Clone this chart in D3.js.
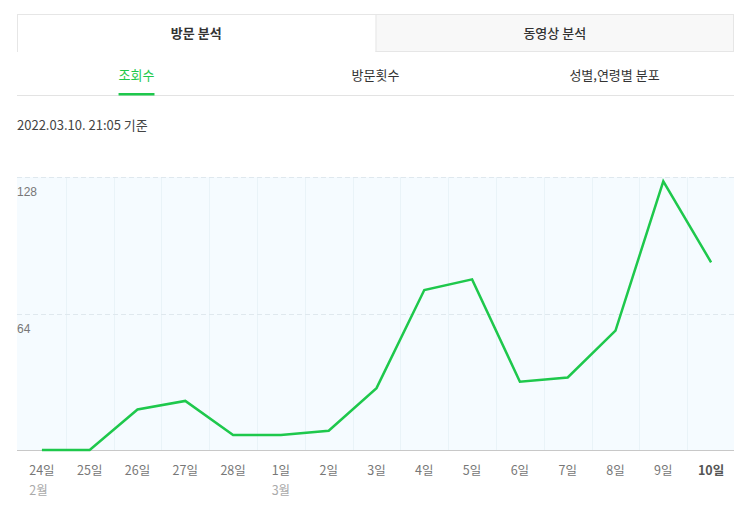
<!DOCTYPE html>
<html>
<head>
<meta charset="utf-8">
<script src="https://cdn.jsdelivr.net/npm/d3@7"></script>
<style>
  html, body { margin: 0; padding: 0; background: #fff; }
  svg { display: block; font-family: "Noto Sans CJK KR", "Noto Sans", sans-serif; }
</style>
</head>
<body>
<svg id="chart" width="743" height="525"></svg>
<script>
// ---- data ----
const days = ["24일","25일","26일","27일","28일","1일","2일","3일","4일","5일","6일","7일","8일","9일","10일"];
const months = ["2월","","","","","3월","","","","","","","","",""];
const views = [0, 0, 19, 23, 7, 7, 9, 29, 75, 80, 32, 34, 56, 126, 88];
const yTicks = [64, 128];
const mainTabs = ["방문 분석", "동영상 분석"];
const subTabs = ["조회수", "방문횟수", "성별,연령별 분포"];
const stamp = "2022.03.10. 21:05 기준";

const svg = d3.select("#chart");
const L = 17, R = 734;

// ---- main tabs ----
const tabX = d3.scaleBand().domain(mainTabs).range([L, R]);
const tabTop = 14, tabBot = 52;
svg.append("rect").attr("x", tabX(mainTabs[1])).attr("y", tabTop)
  .attr("width", tabX.bandwidth()).attr("height", tabBot - tabTop)
  .attr("fill", "#f8f8f8");
const bc = "#e6e6e6";
svg.append("line").attr("x1", L).attr("x2", R).attr("y1", tabTop + 0.5).attr("y2", tabTop + 0.5).attr("stroke", bc);
svg.append("line").attr("x1", L + 0.5).attr("x2", L + 0.5).attr("y1", tabTop).attr("y2", tabBot).attr("stroke", bc);
svg.append("line").attr("x1", R - 0.5).attr("x2", R - 0.5).attr("y1", tabTop).attr("y2", tabBot).attr("stroke", bc);
svg.append("line").attr("x1", tabX(mainTabs[1]) + 0.5).attr("x2", tabX(mainTabs[1]) + 0.5).attr("y1", tabTop).attr("y2", tabBot).attr("stroke", bc);
svg.append("line").attr("x1", tabX(mainTabs[1])).attr("x2", R).attr("y1", tabBot - 0.5).attr("y2", tabBot - 0.5).attr("stroke", bc);
svg.selectAll("text.mtab").data(mainTabs).join("text")
  .attr("class", "mtab")
  .attr("x", d => tabX(d) + tabX.bandwidth() / 2)
  .attr("y", 38)
  .attr("text-anchor", "middle")
  .attr("font-size", 13)
  .attr("font-weight", (d, i) => i === 0 ? 700 : 500)
  .attr("fill", "#333")
  .text(d => d);

// ---- sub tabs ----
const subX = d3.scaleBand().domain(subTabs).range([L, R]);
svg.append("line").attr("x1", L).attr("x2", R).attr("y1", 95.5).attr("y2", 95.5).attr("stroke", "#e3e3e3");
const subT = svg.selectAll("text.stab").data(subTabs).join("text")
  .attr("class", "stab")
  .attr("x", d => subX(d) + subX.bandwidth() / 2)
  .attr("y", 80)
  .attr("text-anchor", "middle")
  .attr("font-size", 13)
  .attr("fill", (d, i) => i === 0 ? "#1ec84c" : "#333")
  .text(d => d);
const activeBox = subT.nodes()[0].getBBox();
svg.append("rect").attr("x", activeBox.x).attr("y", 93).attr("width", activeBox.width).attr("height", 2.5)
  .attr("fill", "#1ec84c");

// ---- timestamp ----
svg.append("text").attr("x", L).attr("y", 130).attr("font-size", 13).attr("fill", "#444")
  .text(stamp);

// ---- chart ----
const x = d3.scaleBand().domain(days).range([18, 735]).padding(0);
const y = d3.scaleLinear().domain([0, 128]).range([450, 177]);
const cx = d => x(d) + x.bandwidth() / 2;

svg.append("rect").attr("x", L).attr("y", y(128)).attr("width", R - L).attr("height", y(0) - y(128))
  .attr("fill", "#f5fbff");

svg.append("g").selectAll("line").data(days.slice(1)).join("line")
  .attr("x1", d => Math.round(x(d)) + 0.5).attr("x2", d => Math.round(x(d)) + 0.5)
  .attr("y1", y(128)).attr("y2", y(0))
  .attr("stroke", "#e9f3f8");

svg.append("g").selectAll("line").data(yTicks).join("line")
  .attr("x1", L).attr("x2", R)
  .attr("y1", d => Math.round(y(d)) + 0.5).attr("y2", d => Math.round(y(d)) + 0.5)
  .attr("stroke", "#dfe8ee").attr("stroke-dasharray", "5,3");

svg.append("g").selectAll("text").data(yTicks).join("text")
  .attr("x", L).attr("y", d => y(d) + 19)
  .attr("font-size", 12).attr("fill", "#777")
  .attr("font-family", "'Liberation Sans', Arial, sans-serif")
  .text(d => d);

svg.append("line").attr("x1", L).attr("x2", R).attr("y1", y(0) + 0.5).attr("y2", y(0) + 0.5)
  .attr("stroke", "#c8c8c8");

const line = d3.line().x((d, i) => cx(days[i])).y(d => y(d));
svg.append("path").datum(views).attr("d", line)
  .attr("fill", "none").attr("stroke", "#1ec84c").attr("stroke-width", 2.5)
  .attr("stroke-linejoin", "miter");

const xl = svg.append("g").selectAll("text").data(days).join("text")
  .attr("x", d => cx(d)).attr("y", 475)
  .attr("text-anchor", "middle")
  .attr("font-size", 12.5)
  .attr("font-weight", (d, i) => i === days.length - 1 ? 700 : 400)
  .attr("fill", (d, i) => i === days.length - 1 ? "#555" : "#777")
  .text(d => d);

const nodes = xl.nodes();
svg.append("g").selectAll("text").data(months.map((m, i) => ({ m, i })).filter(d => d.m)).join("text")
  .attr("x", d => nodes[d.i].getBBox().x)
  .attr("y", 495)
  .attr("font-size", 12.5)
  .attr("fill", "#aaa")
  .text(d => d.m);
</script>
</body>
</html>
